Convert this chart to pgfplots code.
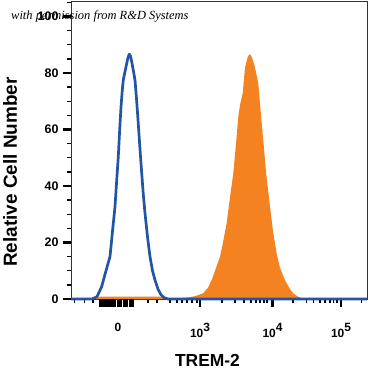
\documentclass[border=0pt]{standalone}
\usepackage{pgfplots}
\pgfplotsset{compat=1.18}
\usepackage{fontspec}
\setmainfont{Liberation Sans}
\newfontfamily\permfont{Liberation Serif}
\definecolor{fcblue}{HTML}{2255A4}
\definecolor{fcorange}{HTML}{F58220}
\definecolor{frame}{HTML}{333333}
\begin{document}
\begin{tikzpicture}[x=1bp,y=1bp]
\path[use as bounding box] (0,0) rectangle (371,372);
\begin{axis}[
  at={(71bp,73bp)}, anchor=south west,
  scale only axis, width=296bp, height=298bp,
  xmin=71, xmax=367, ymin=0, ymax=105.5,
  axis line style={frame, line width=0.9bp},
  tick align=outside,
  xtick pos=bottom, ytick pos=left,
  major tick length=8bp, minor tick length=3.5bp,
  tick style={black},
  major tick style={line width=2.8bp},
  minor tick style={line width=1.3bp},
  ytick={0,20,40,60,80,100},
  yticklabels={0,20,40,60,80,100},
  minor ytick={5,10,15,25,30,35,45,50,55,65,70,75,85,90,95,105},
  xtick={118,200,272.5,341},
  xticklabels={0,10\raisebox{6bp}{3},10\raisebox{6bp}{4},10\raisebox{6bp}{5}},
  minor xtick={74.7,84.7,93,148,157,170,177,182,187,192,197,222,235,244,251,256,260,264,267,293,306.5,313.5,320,325,330,333.5,337,361.5},
  extra x ticks={100,101.5,103,104.5,106,107.5,109,110.5,112,113.5,115,119.5,121,124,125.5,127,130,131.5,133},
  extra x tick labels={},
  extra x tick style={major tick length=8bp, major tick style={line width=1.6bp}},
  yticklabel style={font=\bfseries\fontsize{12.5}{12.5}\selectfont, xshift=-1bp},
  xticklabel style={font=\bfseries\fontsize{12}{12}\selectfont, yshift=-13bp},
  xlabel={TREM-2},
  ylabel={Relative Cell Number},
  xlabel style={font=\bfseries\fontsize{17.5}{17.5}\selectfont, at={(axis description cs:0.461,-0.205)}, anchor=center},
  ylabel style={font=\bfseries\fontsize{19}{19}\selectfont, at={(axis description cs:-0.206,0.426)}, anchor=center},
  clip=false,
]
% orange sample histogram (filled)
\addplot[fill=fcorange, draw=none] coordinates {
(95,0) (100,0.8) (160,0.8) (168,0.3) (180,0.3) (187,0.5) (195,1) (203,2) (208,4)
(212,7) (216,11) (220,15) (223,20) (226.7,27) (230,36) (233.3,44.5) (236,55)
(238.3,64.5) (240,68.7) (242.7,72.8) (245,82) (248,86) (250,86.7) (252,85.5)
(255,82) (258.3,76.3) (261,65) (263.3,56) (266,45) (270,32.7) (273,24)
(276.7,16) (280,11) (285,6.7) (290,3.5) (293.3,2) (297,1) (301.7,0.3) (306,0)
} \closedcycle;
% blue isotype control (outline)
\addplot[draw=fcblue, line width=2.7bp, line join=round] coordinates {
(71,0) (92,0) (97,0.8) (101.7,4.4) (106,10) (110,15) (112.5,24) (115,32.7)
(116.7,42) (118.3,50.4) (119.7,60) (121,68) (122.3,74) (123.3,77.5) (125,80.5)
(126.7,83.4) (128,85.5) (129.3,86.7) (130.5,86) (131.7,84) (133.3,81) (135,77.5)
(136.7,70) (138.3,62) (140,53) (141.7,44.6) (143.3,37) (145,30.4) (147.5,22)
(150,15) (152.5,10) (155,6.7) (158,3.5) (161,1.5) (164,0.5) (168,0) (367,0)
};
\end{axis}
\node[anchor=west, inner sep=0pt] at (11,356) {\permfont\itshape\fontsize{12.5}{12.5}\selectfont with permission from R\&D Systems};
\end{tikzpicture}
\end{document}
